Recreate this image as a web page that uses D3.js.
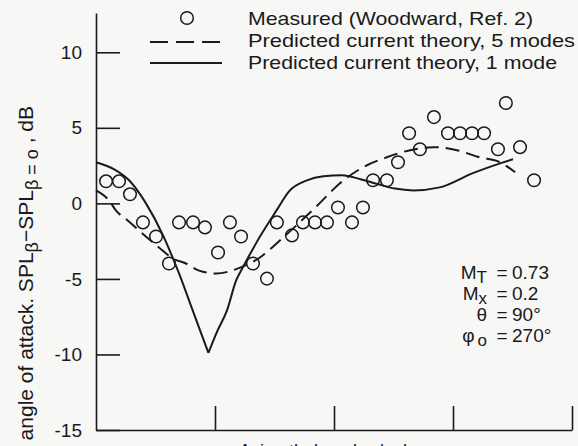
<!DOCTYPE html>
<html>
<head>
<meta charset="utf-8">
<script src="https://cdn.jsdelivr.net/npm/d3@7"></script>
<style>
    body { margin: 0; background: #f7f7f5; }
    svg { display: block; font-family: "Liberation Sans", Arial, sans-serif; }
    text { fill: #1a1a1a; }
</style>
</head>
<body>
<div id="chart"></div>
<script>
// measured data, azimuth angle (deg) vs level change (dB)
var measuredAngle = [7.6, 17.4, 25.7, 35.5, 45.4, 55.2, 62.8, 73.4, 82.4, 92.3, 101.3, 109.7,
    118.7, 129.3, 136.8, 148.2, 156.5, 165.6, 174.7, 183, 193.6, 201.9, 209.5, 220, 228.4,
    236.8, 245, 255.6, 266.2, 275.3, 284.4, 293.5, 304, 310, 320.7, 331.3];
var measuredValue = [1.46, 1.46, 0.6, -1.26, -2.19, -3.98, -1.26, -1.26, -1.59, -3.25, -1.26, -2.19,
    -3.98, -4.98, -1.26, -2.12, -1.26, -1.26, -1.26, -0.27, -1.26, -0.27, 1.53, 1.53, 2.72,
    4.64, 3.58, 5.71, 4.64, 4.64, 4.64, 4.64, 3.58, 6.64, 3.72, 1.53];

// predicted, 5 modes (dashed)
var fiveModeAngle = [0, 9.8, 15, 24, 32.5, 47.6, 58.2, 68, 78, 90.8, 109, 124, 139, 154, 169,
    184.5, 202, 220, 237.5, 255, 273, 290, 305.6, 317];
var fiveModeValue = [0.86, 0.2, -0.46, -1.13, -1.79, -2.92, -3.65, -3.98, -4.45, -4.64, -4.25,
    -3.58, -2.46, -1.26, 0, 1.33, 2.39, 3.05, 3.52, 3.72, 3.52, 3.05, 2.72, 2.06];

// predicted, 1 mode (solid): two branches meeting at the sharp minimum
var oneModeLeftAngle = [0, 15.1, 25, 37.8, 50.7, 56.7, 62.8, 71.1, 78.7, 85];
var oneModeLeftValue = [2.72, 2.19, 1.53, 0, -2.12, -3.32, -4.64, -6.6, -8.4, -9.9];
var oneModeRightAngle = [85, 91.5, 99, 106, 111, 124, 137, 146, 159, 172, 186, 200, 212, 226,
    240, 260, 285, 305.6, 315.4];
var oneModeRightValue = [-9.9, -8.5, -7.1, -5.1, -4.25, -2.2, -0.4, 0.8, 1.5, 1.8, 1.86, 1.6,
    1.3, 0.98, 0.86, 1.06, 2.0, 2.65, 2.92];

var yTicks = [-15, -10, -5, 0, 5, 10];
var xTicks = [90, 180, 270, 360];

var legendLabels = ["Measured (Woodward, Ref. 2)", "Predicted current theory, 5 modes",
    "Predicted current theory, 1 mode"];
var legendWidths = [285, 327, 309];

var width = 578, height = 446;
var svg = d3.select("#chart").append("svg")
    .attr("width", width)
    .attr("height", height);

var x = d3.scaleLinear().domain([0, 360]).range([96, 572]);
var y = d3.scaleLinear().domain([-15, 12.6]).range([430, 13]);

var ink = "#1a1a1a";

// y axis, ticks pointing into the plot
var yAxis = svg.append("g")
    .attr("transform", "translate(96,0)")
    .call(d3.axisLeft(y).tickValues(yTicks).tickSize(-24).tickSizeOuter(0).tickPadding(14)
        .tickFormat(function (d) { return d; }));
yAxis.selectAll("path, line").attr("stroke", ink).attr("stroke-width", 1.6);
yAxis.selectAll("text").attr("font-size", 19).attr("fill", ink)
    .attr("font-family", "'Liberation Sans', Arial, sans-serif");

var xAxis = svg.append("g")
    .attr("transform", "translate(0,430)")
    .call(d3.axisBottom(x).tickValues(xTicks).tickSize(-24).tickSizeOuter(0).tickFormat(""));
xAxis.selectAll("path, line").attr("stroke", ink).attr("stroke-width", 1.6);

// curves
var line = d3.line().curve(d3.curveMonotoneX);
function pts(angles, values) {
    return angles.map(function (a, i) { return [x(a), y(values[i])]; });
}

svg.append("path")
    .attr("d", line(pts(fiveModeAngle, fiveModeValue)))
    .attr("fill", "none").attr("stroke", ink).attr("stroke-width", 2)
    .attr("stroke-dasharray", "14,7");

svg.append("path")
    .attr("d", line(pts(oneModeLeftAngle, oneModeLeftValue)) + line(pts(oneModeRightAngle, oneModeRightValue)))
    .attr("fill", "none").attr("stroke", ink).attr("stroke-width", 2);

svg.append("g").selectAll("circle")
    .data(measuredAngle)
    .enter().append("circle")
    .attr("cx", function (d) { return x(d); })
    .attr("cy", function (d, i) { return y(measuredValue[i]); })
    .attr("r", 6.3)
    .attr("fill", "none")
    .attr("stroke", ink)
    .attr("stroke-width", 1.5);

// legend
var legend = svg.append("g");
legend.append("circle").attr("cx", 187).attr("cy", 18).attr("r", 6.3)
    .attr("fill", "none").attr("stroke", ink).attr("stroke-width", 1.5);
legend.append("line").attr("x1", 150).attr("x2", 222).attr("y1", 42).attr("y2", 42)
    .attr("stroke", ink).attr("stroke-width", 2).attr("stroke-dasharray", "18,8");
legend.append("line").attr("x1", 150).attr("x2", 222).attr("y1", 63).attr("y2", 63)
    .attr("stroke", ink).attr("stroke-width", 2);
legend.selectAll("text")
    .data(legendLabels)
    .enter().append("text")
    .attr("x", 248)
    .attr("y", function (d, i) { return 25 + i * 22; })
    .attr("font-size", 18.5)
    .attr("textLength", function (d, i) { return legendWidths[i]; })
    .attr("lengthAdjust", "spacingAndGlyphs")
    .text(function (d) { return d; });

// parameter block
var params = [
    { name: "M", sub: "T", val: "0.73" },
    { name: "M", sub: "x", val: "0.2" },
    { name: "θ", sub: "", val: "90°" },
    { name: "φ", sub: "o", val: "270°" }
];
var pg = svg.append("g").attr("font-size", 19);
params.forEach(function (p, i) {
    var by = 279 + i * 21;
    var t = pg.append("text").attr("x", 487).attr("y", by).attr("text-anchor", "end");
    t.append("tspan").text(p.name);
    if (p.sub) {
        t.append("tspan").attr("dx", p.name === "φ" ? 3 : 0).attr("dy", 4).attr("font-size", 17).text(p.sub);
    }
    pg.append("text").attr("x", 502).attr("y", by).attr("text-anchor", "middle").text("=");
    pg.append("text").attr("x", 512).attr("y", by).text(p.val);
});

// y label (partly cut off at the bottom like the source)
var yl = svg.append("text")
    .attr("transform", "translate(33,106) rotate(-90)")
    .attr("text-anchor", "end")
    .attr("font-size", 21);
yl.append("tspan").text("Change in SPL with angle of attack.  SPL");
yl.append("tspan").attr("dy", 5).attr("font-size", 18).text("β");
yl.append("tspan").attr("dy", -5).text("−SPL");
yl.append("tspan").attr("dy", 5).attr("font-size", 18).text("β = o");
yl.append("tspan").attr("dy", -5).text(" , dB");

// x label, only the tops show
svg.append("text")
    .attr("x", 333).attr("y", 457)
    .attr("text-anchor", "middle")
    .attr("font-size", 18)
    .text("Azimuthal angle, ϕ, deg");
</script>
</body>
</html>
